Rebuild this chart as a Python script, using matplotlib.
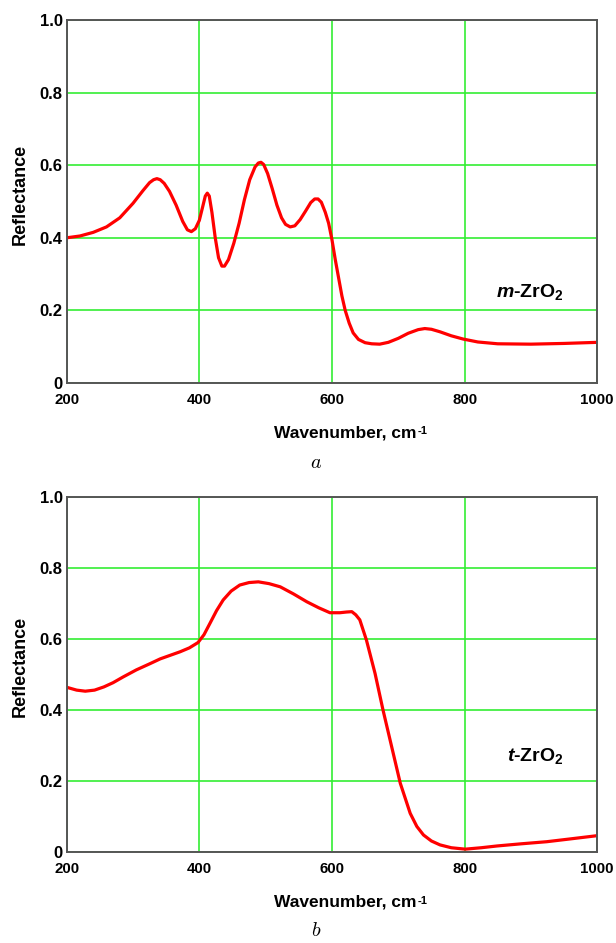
import matplotlib
matplotlib.use("Agg")
import matplotlib.pyplot as plt
from matplotlib.ticker import FixedLocator, FixedFormatter

# Reflectance spectra of the two zirconia phases
m_wavenumber = [200, 220, 240, 260, 280, 300, 315, 325, 331, 336, 341, 347, 355,
                365, 375, 382, 388, 394, 400, 405, 409, 412, 415, 419, 424, 429,
                434, 438, 444, 452, 460, 468, 476, 484, 489, 493, 497, 503, 510,
                517, 524, 530, 537, 544, 552, 560, 568, 574, 579, 584, 590, 595,
                600, 605, 610, 615, 620, 626, 632, 640, 650, 660, 672, 685, 700,
                715, 730, 740, 750, 763, 780, 798, 820, 850, 900, 950, 1000]
m_reflectance = [0.400, 0.405, 0.415, 0.430, 0.455, 0.495, 0.530, 0.552, 0.560,
                 0.563, 0.560, 0.550, 0.528, 0.490, 0.445, 0.422, 0.417, 0.425,
                 0.448, 0.485, 0.515, 0.523, 0.515, 0.470, 0.400, 0.345, 0.322,
                 0.322, 0.340, 0.385, 0.440, 0.505, 0.560, 0.595, 0.606, 0.608,
                 0.602, 0.577, 0.535, 0.490, 0.455, 0.437, 0.430, 0.433, 0.450,
                 0.473, 0.497, 0.507, 0.507, 0.498, 0.470, 0.440, 0.395, 0.340,
                 0.290, 0.240, 0.200, 0.165, 0.138, 0.120, 0.111, 0.108, 0.107,
                 0.112, 0.123, 0.137, 0.147, 0.150, 0.148, 0.141, 0.130, 0.121,
                 0.113, 0.108, 0.107, 0.109, 0.112]

t_wavenumber = [200, 215, 228, 242, 256, 270, 285, 305, 325, 341, 356, 371, 385,
                398, 407, 416, 426, 436, 448, 461, 475, 489, 505, 522, 542, 562,
                580, 597, 612, 622, 630, 636, 642, 652, 665, 677, 690, 703, 718,
                728, 738, 750, 763, 780, 801, 825, 849, 885, 924, 960, 1000]
t_reflectance = [0.464, 0.456, 0.453, 0.456, 0.465, 0.477, 0.493, 0.513, 0.530,
                 0.544, 0.554, 0.564, 0.575, 0.590, 0.612, 0.644, 0.680, 0.710,
                 0.735, 0.752, 0.759, 0.761, 0.756, 0.747, 0.727, 0.705, 0.688,
                 0.674, 0.674, 0.676, 0.677, 0.668, 0.654, 0.597, 0.503, 0.400,
                 0.297, 0.194, 0.109, 0.072, 0.048, 0.031, 0.020, 0.012, 0.008,
                 0.012, 0.017, 0.023, 0.029, 0.037, 0.046]

x_ticks = [200, 400, 600, 800, 1000]
x_tick_labels = ["200", "400", "600", "800", "1000"]
y_ticks = [0, 0.2, 0.4, 0.6, 0.8, 1.0]
y_tick_labels = ["0", "0.2", "0.4", "0.6", "0.8", "1.0"]

FONT = "Liberation Sans"
GRID = "#33ee33"
SPINE = "#555555"
LINE = "#ff0000"
W, H = 616, 943

plt.rcParams["mathtext.fontset"] = "custom"
plt.rcParams["mathtext.rm"] = FONT
plt.rcParams["mathtext.bf"] = FONT + ":bold"
plt.rcParams["mathtext.it"] = FONT + ":italic:bold"

fig = plt.figure(figsize=(W / 100, H / 100), dpi=100)
xlabels = []


def spectrum_panel(rect, x, y, phase, phase_xy, letter, ylab_y, xlab_y, letter_y):
    ax = fig.add_axes(rect)
    ax.plot(x, y, color=LINE, lw=2.3, solid_joinstyle="round",
            solid_capstyle="round", zorder=3)
    ax.set_xlim(200, 1000)
    ax.set_ylim(0, 1.0)
    ax.xaxis.set_major_locator(FixedLocator(x_ticks))
    ax.xaxis.set_major_formatter(FixedFormatter(x_tick_labels))
    ax.yaxis.set_major_locator(FixedLocator(y_ticks))
    ax.yaxis.set_major_formatter(FixedFormatter(y_tick_labels))
    ax.tick_params(axis="both", length=0)
    ax.tick_params(axis="x", pad=7, labelsize=10.8)
    ax.tick_params(axis="y", pad=3, labelsize=12)
    for lbl in ax.get_xticklabels() + ax.get_yticklabels():
        lbl.set_fontfamily(FONT)
        lbl.set_fontweight("bold")
    ax.grid(True, color=GRID, lw=1.2, zorder=1)
    for s in ax.spines.values():
        s.set_color(SPINE)
        s.set_linewidth(1.4)
        s.set_zorder(4)
    ax.text(phase_xy[0], phase_xy[1], phase, transform=ax.transAxes,
            fontfamily=FONT, fontweight="bold", fontsize=14,
            va="center", ha="left")

    # axis titles placed in figure pixels
    fig.text(20 / W, 1 - ylab_y / H, "Reflectance", rotation=90,
             fontfamily=FONT, fontweight="bold", fontsize=13,
             ha="center", va="center")
    xl = fig.text(274 / W, 1 - xlab_y / H, "Wavenumber, cm", fontfamily=FONT,
                  fontweight="bold", fontsize=12.5, ha="left", va="center")
    xlabels.append(xl)
    fig.text(316 / W, 1 - letter_y / H, letter, fontsize=14.5,
             ha="center", va="center", math_fontfamily="cm")
    return ax


spectrum_panel([66.7 / W, 1 - 383 / H, 530.5 / W, 363 / H],
               m_wavenumber, m_reflectance,
               "$\\mathit{m}$-ZrO$_\\mathbf{2}$", (0.81, 0.25), "$a$",
               194, 433, 463)
spectrum_panel([66.7 / W, 1 - 852 / H, 530.5 / W, 355 / H],
               t_wavenumber, t_reflectance,
               "$\\mathit{t}$-ZrO$_\\mathbf{2}$", (0.83, 0.27), "$b$",
               666, 902, 931)

# superscript -1 after each "cm"
fig.canvas.draw()
renderer = fig.canvas.get_renderer()
for xl in xlabels:
    bb = xl.get_window_extent(renderer)
    fig.text((bb.x1 + 1) / W, (bb.y1 - 1) / H, "-1", fontfamily=FONT,
             fontweight="bold", fontsize=8, ha="left", va="top")

fig.savefig("out.png", dpi=100)
